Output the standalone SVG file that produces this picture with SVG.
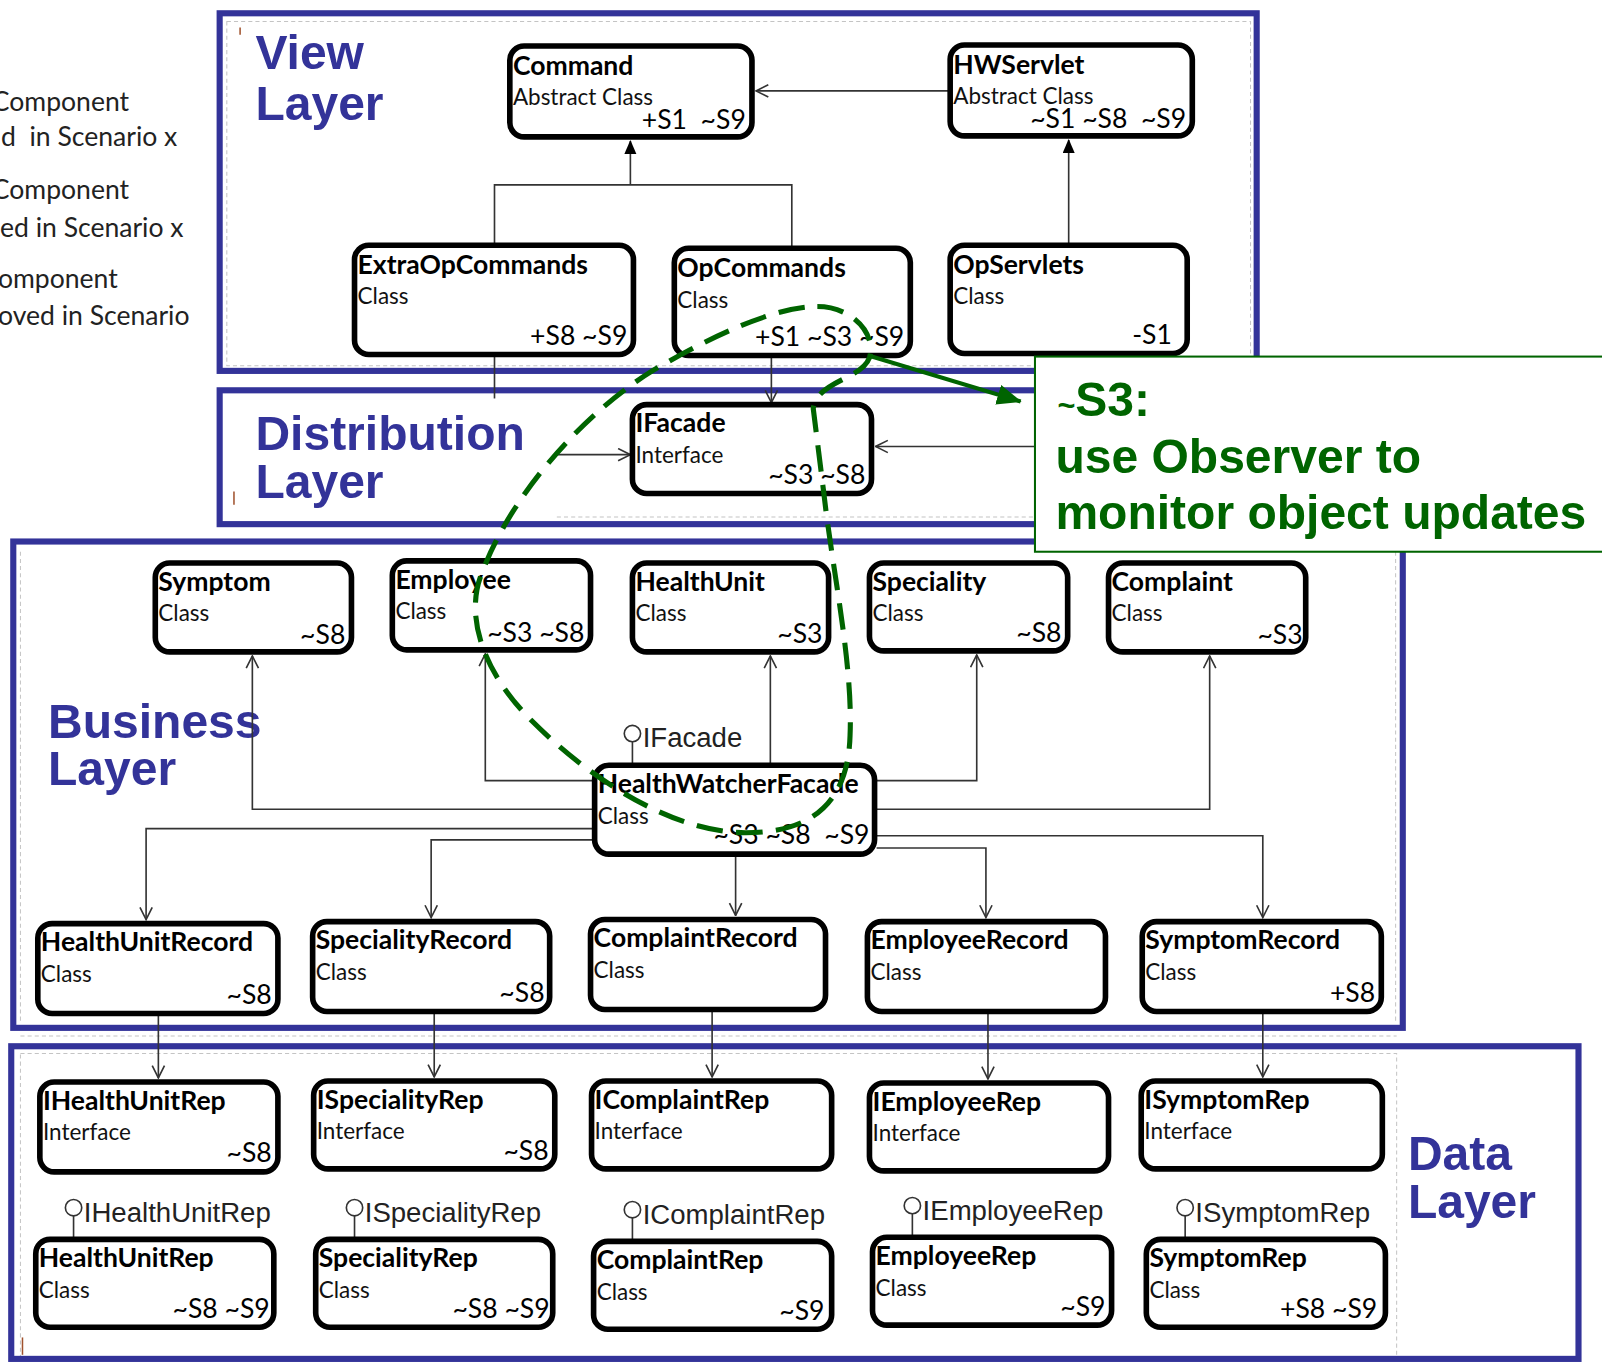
<svg xmlns="http://www.w3.org/2000/svg" width="1602" height="1364" viewBox="0 0 1602 1364">
  <defs>
    <style>
      .layer { fill: none; stroke: #333399; stroke-width: 6; }
      .frame { fill: none; stroke: #c4c4c4; stroke-width: 1; stroke-dasharray: 4 3; }
      .lt { font-family: "Liberation Sans", Arial, sans-serif; font-weight: bold; font-size: 47px; fill: #333399; }
      .box { fill: #fff; stroke: #000; stroke-width: 5.5; }
      .t { font-family: Lato, "Open Sans", sans-serif; font-weight: bold; font-size: 26px; fill: #000; }
      .s { font-family: Lato, "Open Sans", sans-serif; font-size: 22px; fill: #111; }
      .g { font-family: Lato, "Open Sans", sans-serif; font-size: 26px; fill: #000; text-anchor: end; white-space: pre; }
      .conn { fill: none; stroke: #333; stroke-width: 1.6; }
      .lol { fill: #fff; stroke: #333; stroke-width: 1.6; }
      .lolt { font-family: "Liberation Sans", Arial, sans-serif; font-size: 27px; fill: #222; }
      .leg { font-family: Lato, "Open Sans", sans-serif; font-size: 26px; fill: #222; white-space: pre; }
      .note { font-family: "Liberation Sans", Arial, sans-serif; font-weight: bold; font-size: 47px; fill: #006400; }
      .tick { stroke: #a0522d; stroke-width: 1.5; }
    </style>
    <marker id="open" viewBox="0 0 14 14" refX="13" refY="7" markerWidth="14" markerHeight="14" orient="auto" markerUnits="userSpaceOnUse">
      <path d="M1,1 L13,7 L1,13" fill="none" stroke="#333" stroke-width="1.6"/>
    </marker>
    <marker id="tri" viewBox="0 0 14 12" refX="13" refY="6" markerWidth="14" markerHeight="12" orient="auto" markerUnits="userSpaceOnUse">
      <path d="M0,0 L14,6 L0,12 Z" fill="#000"/>
    </marker>
    <marker id="garrow" viewBox="0 0 24 20" refX="23" refY="10" markerWidth="24" markerHeight="20" orient="auto" markerUnits="userSpaceOnUse">
      <path d="M0,0 L24,10 L0,20 Z" fill="#006400"/>
    </marker>
  </defs>

  <rect width="1602" height="1364" fill="#fff"/>

  <g transform="scale(1.021684,1.021723)">
    <!-- legend (clipped at the left edge) -->
    <g id="legend">
      <text class="leg" x="-8" y="109">Component</text>
      <text class="leg" x="1" y="143">d  in Scenario x</text>
      <text class="leg" x="-8" y="195">Component</text>
      <text class="leg" x="0" y="232">ed in Scenario x</text>
      <text class="leg" x="-2" y="282">omponent</text>
      <text class="leg" x="-2" y="318">oved in Scenario</text>
    </g>

    <!-- layer frames -->
    <g id="layers">
      <rect class="frame" x="222" y="21" width="1002" height="337"/>
      <line class="frame" x1="545" y1="506" x2="1013" y2="506"/>
      <line class="frame" x1="20" y1="540" x2="20" y2="1000"/>
      <line class="frame" x1="1366" y1="540" x2="1366" y2="1000"/>
      <line class="frame" x1="20" y1="1014" x2="1367" y2="1014"/>
      <rect class="frame" x="20" y="1031" width="1347" height="297"/>
      <rect class="layer" x="215" y="13" width="1015" height="350"/>
      <rect class="layer" x="215" y="382" width="900" height="131"/>
      <rect class="layer" x="13" y="530" width="1360" height="476"/>
      <rect class="layer" x="11" y="1024" width="1534" height="306"/>
      <line class="tick" x1="235" y1="27" x2="235" y2="34"/>
      <line class="tick" x1="229" y1="481" x2="229" y2="494"/>
      <line class="tick" x1="22" y1="1309" x2="22" y2="1326"/>
      <text class="lt" x="250" y="68">View</text>
      <text class="lt" x="250" y="117">Layer</text>
      <text class="lt" x="250" y="440">Distribution</text>
      <text class="lt" x="250" y="487">Layer</text>
      <text class="lt" x="47" y="722">Business</text>
      <text class="lt" x="47" y="768">Layer</text>
      <text class="lt" x="1378" y="1145">Data</text>
      <text class="lt" x="1378" y="1192">Layer</text>
    </g>

    <!-- connectors -->
    <g id="connectors">
      <path class="conn" d="M928,89 H740" marker-end="url(#open)"/>
      <path class="conn" d="M484,238 V181 H775 V241"/>
      <path class="conn" d="M617,181 V138" marker-end="url(#tri)"/>
      <path class="conn" d="M1046,238 V137" marker-end="url(#tri)"/>
      <path class="conn" d="M484,349 V390"/>
      <path class="conn" d="M755,350 V394" marker-end="url(#open)"/>
      <path class="conn" d="M545,445 H617" marker-end="url(#open)"/>
      <path class="conn" d="M1013,437 H857" marker-end="url(#open)"/>
      <path class="conn" d="M580,792 H247 V642" marker-end="url(#open)"/>
      <path class="conn" d="M580,764 H475 V640" marker-end="url(#open)"/>
      <path class="conn" d="M754,747 V642" marker-end="url(#open)"/>
      <path class="conn" d="M858,764 H956 V641" marker-end="url(#open)"/>
      <path class="conn" d="M858,792 H1184 V642" marker-end="url(#open)"/>
      <path class="conn" d="M580,811 H143 V900" marker-end="url(#open)"/>
      <path class="conn" d="M580,822 H422 V898" marker-end="url(#open)"/>
      <path class="conn" d="M720,838 V896" marker-end="url(#open)"/>
      <path class="conn" d="M858,830 H965 V898" marker-end="url(#open)"/>
      <path class="conn" d="M858,818 H1236 V898" marker-end="url(#open)"/>
      <path class="conn" d="M155,994 V1055" marker-end="url(#open)"/>
      <path class="conn" d="M425,992 V1054" marker-end="url(#open)"/>
      <path class="conn" d="M697,990 V1054" marker-end="url(#open)"/>
      <path class="conn" d="M967,992 V1056" marker-end="url(#open)"/>
      <path class="conn" d="M1236,992 V1054" marker-end="url(#open)"/>
      <!-- provided interfaces (lollipops) -->
      <line class="conn" x1="619" y1="726" x2="619" y2="747"/>
      <circle class="lol" cx="619" cy="718" r="8"/>
      <line class="conn" x1="72" y1="1190" x2="72" y2="1211"/>
      <circle class="lol" cx="72" cy="1182" r="8"/>
      <line class="conn" x1="347" y1="1190" x2="347" y2="1211"/>
      <circle class="lol" cx="347" cy="1182" r="8"/>
      <line class="conn" x1="619" y1="1192" x2="619" y2="1213"/>
      <circle class="lol" cx="619" cy="1184" r="8"/>
      <line class="conn" x1="893" y1="1188" x2="893" y2="1209"/>
      <circle class="lol" cx="893" cy="1180" r="8"/>
      <line class="conn" x1="1160" y1="1190" x2="1160" y2="1211"/>
      <circle class="lol" cx="1160" cy="1182" r="8"/>
      <text class="lolt" x="629" y="731">IFacade</text>
      <text class="lolt" x="82" y="1196">IHealthUnitRep</text>
      <text class="lolt" x="357" y="1196">ISpecialityRep</text>
      <text class="lolt" x="629" y="1198">IComplaintRep</text>
      <text class="lolt" x="903" y="1194">IEmployeeRep</text>
      <text class="lolt" x="1170" y="1196">ISymptomRep</text>
    </g>

    <!-- view layer -->
    <g id="command"><rect class="box" x="499" y="45" width="237" height="89" rx="14"/>
      <text class="t" x="502" y="73">Command</text><text class="s" x="502" y="103">Abstract Class</text><text class="g" x="730" y="126">+S1  ~S9</text></g>
    <g id="hwservlet"><rect class="box" x="930" y="44" width="237" height="89" rx="14"/>
      <text class="t" x="933" y="72">HWServlet</text><text class="s" x="933" y="102">Abstract Class</text><text class="g" x="1161" y="125">~S1 ~S8  ~S9</text></g>
    <g id="extraopcommands"><rect class="box" x="347" y="240" width="273" height="107" rx="14"/>
      <text class="t" x="350" y="268">ExtraOpCommands</text><text class="s" x="350" y="298">Class</text><text class="g" x="614" y="338">+S8 ~S9</text></g>
    <g id="opcommands"><rect class="box" x="660" y="243" width="231" height="105" rx="14"/>
      <text class="t" x="663" y="271">OpCommands</text><text class="s" x="663" y="301">Class</text><text class="g" x="885" y="339">+S1 ~S3 ~S9</text></g>
    <g id="opservlets"><rect class="box" x="930" y="240" width="232" height="106" rx="14"/>
      <text class="t" x="933" y="268">OpServlets</text><text class="s" x="933" y="298">Class</text><text class="g" x="1147" y="337">-S1</text></g>

    <!-- distribution layer -->
    <g id="ifacade"><rect class="box" x="619" y="396" width="234" height="87" rx="14"/>
      <text class="t" x="622" y="423">IFacade</text><text class="s" x="622" y="453">Interface</text><text class="g" x="847" y="474">~S3 ~S8</text></g>

    <!-- business layer -->
    <g id="symptom"><rect class="box" x="152" y="551" width="192" height="87" rx="14"/>
      <text class="t" x="155" y="578">Symptom</text><text class="s" x="155" y="608">Class</text><text class="g" x="338" y="630">~S8</text></g>
    <g id="employee"><rect class="box" x="384" y="549" width="194" height="87" rx="14"/>
      <text class="t" x="387" y="576">Employee</text><text class="s" x="387" y="606">Class</text><text class="g" x="572" y="628">~S3 ~S8</text></g>
    <g id="healthunit"><rect class="box" x="619" y="551" width="192" height="87" rx="14"/>
      <text class="t" x="622" y="578">HealthUnit</text><text class="s" x="622" y="608">Class</text><text class="g" x="805" y="629">~S3</text></g>
    <g id="speciality"><rect class="box" x="851" y="551" width="194" height="86" rx="14"/>
      <text class="t" x="854" y="578">Speciality</text><text class="s" x="854" y="608">Class</text><text class="g" x="1039" y="628">~S8</text></g>
    <g id="complaint"><rect class="box" x="1085" y="551" width="193" height="87" rx="14"/>
      <text class="t" x="1088" y="578">Complaint</text><text class="s" x="1088" y="608">Class</text><text class="g" x="1275" y="630">~S3</text></g>
    <g id="healthwatcherfacade"><rect class="box" x="582" y="749" width="274" height="87" rx="14"/>
      <text class="t" x="585" y="776">HealthWatcherFacade</text><text class="s" x="585" y="806">Class</text><text class="g" x="851" y="826">~S3 ~S8  ~S9</text></g>
    <g id="healthunitrecord"><rect class="box" x="37" y="904" width="235" height="88" rx="14"/>
      <text class="t" x="40" y="931">HealthUnitRecord</text><text class="s" x="40" y="961">Class</text><text class="g" x="266" y="983">~S8</text></g>
    <g id="specialityrecord"><rect class="box" x="306" y="902" width="232" height="88" rx="14"/>
      <text class="t" x="309" y="929">SpecialityRecord</text><text class="s" x="309" y="959">Class</text><text class="g" x="533" y="981">~S8</text></g>
    <g id="complaintrecord"><rect class="box" x="578" y="900" width="230" height="88" rx="14"/>
      <text class="t" x="581" y="927">ComplaintRecord</text><text class="s" x="581" y="957">Class</text></g>
    <g id="employeerecord"><rect class="box" x="849" y="902" width="233" height="88" rx="14"/>
      <text class="t" x="852" y="929">EmployeeRecord</text><text class="s" x="852" y="959">Class</text></g>
    <g id="symptomrecord"><rect class="box" x="1118" y="902" width="234" height="88" rx="14"/>
      <text class="t" x="1121" y="929">SymptomRecord</text><text class="s" x="1121" y="959">Class</text><text class="g" x="1346" y="981">+S8</text></g>

    <!-- data layer -->
    <g id="ihealthunitrep"><rect class="box" x="39" y="1059" width="233" height="88" rx="14"/>
      <text class="t" x="42" y="1086">IHealthUnitRep</text><text class="s" x="42" y="1116">Interface</text><text class="g" x="266" y="1137">~S8</text></g>
    <g id="ispecialityrep"><rect class="box" x="307" y="1058" width="236" height="86" rx="14"/>
      <text class="t" x="310" y="1085">ISpecialityRep</text><text class="s" x="310" y="1115">Interface</text><text class="g" x="537" y="1135">~S8</text></g>
    <g id="icomplaintrep"><rect class="box" x="579" y="1058" width="235" height="86" rx="14"/>
      <text class="t" x="582" y="1085">IComplaintRep</text><text class="s" x="582" y="1115">Interface</text></g>
    <g id="iemployeerep"><rect class="box" x="851" y="1060" width="234" height="86" rx="14"/>
      <text class="t" x="854" y="1087">IEmployeeRep</text><text class="s" x="854" y="1117">Interface</text></g>
    <g id="isymptomrep"><rect class="box" x="1117" y="1058" width="236" height="86" rx="14"/>
      <text class="t" x="1120" y="1085">ISymptomRep</text><text class="s" x="1120" y="1115">Interface</text></g>
    <g id="healthunitrep"><rect class="box" x="35" y="1213" width="233" height="86" rx="14"/>
      <text class="t" x="38" y="1240">HealthUnitRep</text><text class="s" x="38" y="1270">Class</text><text class="g" x="264" y="1290">~S8 ~S9</text></g>
    <g id="specialityrep"><rect class="box" x="309" y="1213" width="232" height="86" rx="14"/>
      <text class="t" x="312" y="1240">SpecialityRep</text><text class="s" x="312" y="1270">Class</text><text class="g" x="538" y="1290">~S8 ~S9</text></g>
    <g id="complaintrep"><rect class="box" x="581" y="1215" width="233" height="86" rx="14"/>
      <text class="t" x="584" y="1242">ComplaintRep</text><text class="s" x="584" y="1272">Class</text><text class="g" x="807" y="1292">~S9</text></g>
    <g id="employeerep"><rect class="box" x="854" y="1211" width="234" height="86" rx="14"/>
      <text class="t" x="857" y="1238">EmployeeRep</text><text class="s" x="857" y="1268">Class</text><text class="g" x="1082" y="1288">~S9</text></g>
    <g id="symptomrep"><rect class="box" x="1122" y="1213" width="234" height="86" rx="14"/>
      <text class="t" x="1125" y="1240">SymptomRep</text><text class="s" x="1125" y="1270">Class</text><text class="g" x="1348" y="1290">+S8 ~S9</text></g>

    <!-- scenario S3 annotation -->
    <g id="s3-note">
      <rect x="1013" y="349" width="600" height="191" fill="#fff" stroke="#006400" stroke-width="2"/>
      <text class="note" x="1035" y="407"><tspan font-size="30">~</tspan>S3:</text>
      <text class="note" x="1033" y="463">use Observer to</text>
      <text class="note" x="1033" y="518">monitor object updates</text>
    </g>
    <g id="s3-scope">
      <path d="M800,300 C835,300 858,328 851,350 C843,372 800,372 796,400 L806,480 C815,560 835,650 832,720 C830,790 790,815 730,815 C660,815 580,765 520,705 C470,655 455,600 472,560 C500,485 570,405 640,362 C700,327 760,300 800,300 Z" fill="none" stroke="#006400" stroke-width="5" stroke-dasharray="26 13"/>
      <path d="M850,348 L999,393" fill="none" stroke="#006400" stroke-width="4" marker-end="url(#garrow)"/>
    </g>
  </g>
</svg>
